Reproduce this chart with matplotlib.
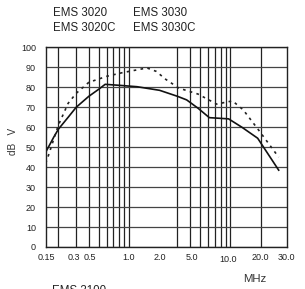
import matplotlib
matplotlib.use("Agg")
import matplotlib.pyplot as plt
from matplotlib.transforms import ScaledTranslation

plt.rcParams['font.family'] = ['Liberation Sans', 'DejaVu Sans']

# solid curve (EMS 3020 / 3020C)
solid_f = [0.15, 0.18, 0.2, 0.25, 0.3, 0.4, 0.5, 0.58, 0.8, 1.2, 2.0, 3.0, 3.7, 4.8, 6.2, 9.6, 13.0, 18.6, 30.0]
solid_db = [47.5, 55, 59, 65, 70, 75.5, 79, 81.5, 81, 80.3, 78.5, 75.5, 73.7, 69.5, 64.8, 64.2, 60, 54.5, 38.5]

# dashed curve (EMS 3030 / 3030C)
dash_f = [0.15, 0.16, 0.18, 0.2, 0.25, 0.3, 0.4, 0.6, 0.85, 1.5, 1.85, 2.3, 3.1, 4.8, 7.3, 10.5, 13.4, 19.0, 30.0]
dash_db = [42, 46, 54, 61, 72, 77, 82.5, 85.5, 87.3, 89.7, 88, 84, 79.6, 76.6, 71.6, 73.2, 68.7, 58.6, 45]

x_labels = ["0.15", "0.3", "0.5", "1.0", "2.0", "5.0", "10.0", "20.0", "30.0"]
x_label_pos = [0.151, 0.283, 0.406, 0.98, 2.0, 4.13, 9.43, 19.9, 36.0]
x_grid = [0.2, 0.3, 0.4, 0.5, 0.6, 0.7, 0.8, 0.9, 1, 2, 3, 4, 5, 6, 7, 8, 9, 10, 20]
y_ticks = list(range(0, 101, 10))

W, H = 305, 289
fig = plt.figure(figsize=(W / 100, H / 100), dpi=100)
ax = fig.add_axes([45.7 / W, 1 - 247 / H, (286.7 - 45.7) / W, (247 - 47.4) / H])

ax.plot(solid_f, solid_db, color="#111111", lw=1.2)
ax.plot(dash_f, dash_db, color="#222222", lw=1.2, linestyle=(0, (1.6, 2.6)))

ax.set_xscale("log")
ax.set_xlim(0.15, 30)
ax.set_ylim(0, 100)

ax.set_xticks(x_label_pos, x_labels)
ax.set_xticks(x_grid, minor=True)
ax.xaxis.set_minor_formatter(plt.NullFormatter())
ax.set_yticks(y_ticks)
ax.tick_params(axis="both", which="both", length=0, labelsize=6.5, colors="#222222")
ax.tick_params(axis="x", pad=4)
ax.tick_params(axis="y", pad=7)
ax.grid(False, which="major", axis="x")
ax.grid(True, which="minor", axis="x", color="#222222", lw=0.9)
ax.grid(True, which="major", axis="y", color="#444444", lw=0.9)
for s in ax.spines.values():
    s.set_color("#222222")
    s.set_linewidth(1.0)

# the "10.0" label sits a bit lower in the reference
for lab in ax.get_xticklabels():
    if lab.get_text() == "10.0":
        lab.set_transform(lab.get_transform() + ScaledTranslation(0, -2 / 72, fig.dpi_scale_trans))

fig.text(13.5 / W, 1 - 141.5 / H, "dB   V", rotation=90, ha="center", va="center", fontsize=7.2, color="#333333")
fig.text(255 / W, 1 - 279 / H, "MHz", ha="center", va="center", fontsize=8.2, color="#333333")

fig.text(52.7 / W, 1 - 12.5 / H, "EMS 3020", ha="left", va="center", fontsize=8.3, color="#222222")
fig.text(52.7 / W, 1 - 27.7 / H, "EMS 3020C", ha="left", va="center", fontsize=8.3, color="#222222")
fig.text(133.3 / W, 1 - 12.5 / H, "EMS 3030", ha="left", va="center", fontsize=8.3, color="#222222")
fig.text(133.3 / W, 1 - 27.7 / H, "EMS 3030C", ha="left", va="center", fontsize=8.3, color="#222222")
# partly cut off at the bottom edge, as in the reference
fig.text(52.0 / W, 1 - 285 / H, "EMS 3100", ha="left", va="top", fontsize=8.3, color="#222222")

fig.savefig("out.png", dpi=100)
